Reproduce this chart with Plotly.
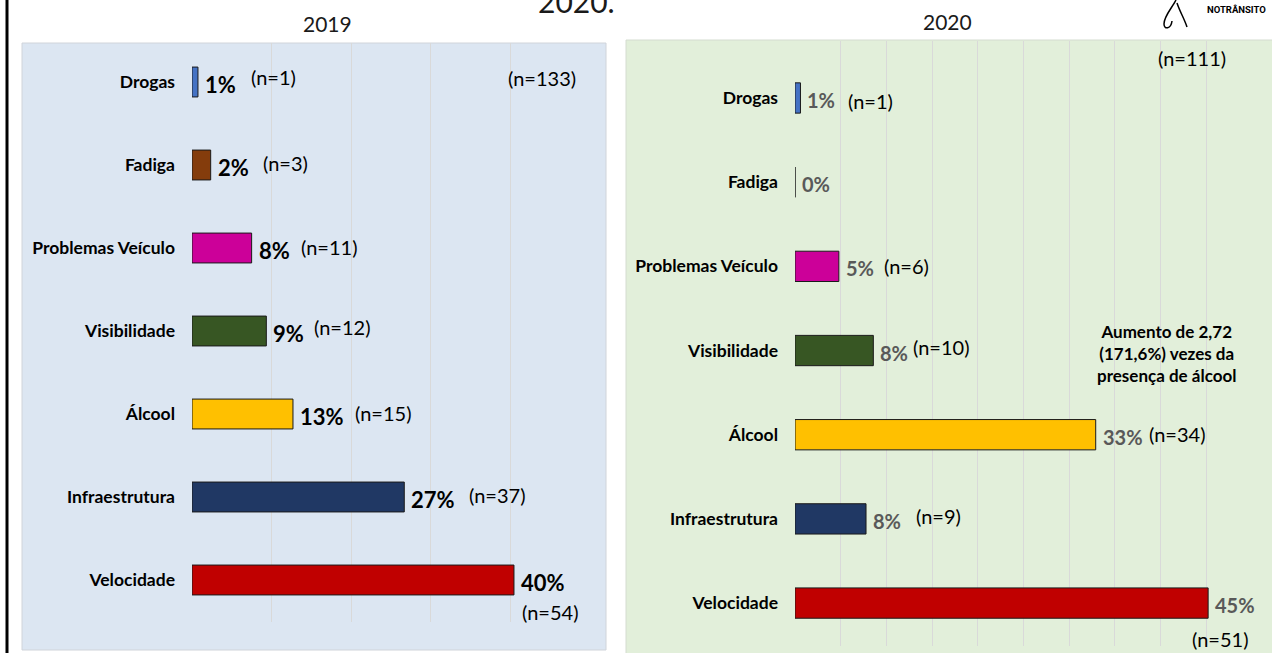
import plotly.graph_objects as go

W, H = 1272, 653

# ---------------- data ----------------
categories = ["Drogas", "Fadiga", "Problemas Veículo", "Visibilidade",
              "Álcool", "Infraestrutura", "Velocidade"]
pct_2019 = [0.75, 2.35, 7.5, 9.35, 12.7, 26.7, 40.5]
pct_2020 = [0.6, 0.0, 4.8, 8.57, 32.9, 7.77, 45.2]
labels_2019 = ["1%", "2%", "8%", "9%", "13%", "27%", "40%"]
labels_2020 = ["1%", "0%", "5%", "8%", "33%", "8%", "45%"]
n_2019 = [1, 3, 11, 12, 15, 37, 54]
n_2020 = [1, None, 6, 10, 34, 9, 51]
total_2019 = 133
total_2020 = 111
years = ["2019", "2020"]
title_tail = "2020."
note_lines = ["Aumento de 2,72", "(171,6%) vezes da", "presença de álcool"]
logo_text = "NOTRÂNSITO"

# ---------------- style ----------------
bar_colors = ["#4472C4", "#843C0C", "#CC0099", "#375623",
              "#FFC000", "#203864", "#C00000"]
FONT = "Lato"
GRID = "#D9D9D9"

# label offsets (pixels) relative to bar end: (dx, dy)
n_off_2019 = [(51, 5), (50, 2), (47, 1), (46, 4), (60, 1), (63, 2), (6, -32)]
n_off_2020 = [(46, -3), None, (43, 0), (38, 4), (51, 1), (48, 3), (-18, -36)]


def px(x):
    return x / W


def py(y):
    return 1 - y / H


fig = go.Figure()
fig.add_trace(go.Bar(
    x=pct_2019, y=categories, orientation="h",
    marker=dict(color=bar_colors, line=dict(color="#1a1a1a", width=1)),
    xaxis="x", yaxis="y", hoverinfo="skip", showlegend=False))
fig.add_trace(go.Bar(
    x=pct_2020, y=categories, orientation="h",
    marker=dict(color=bar_colors, line=dict(color="#1a1a1a", width=1)),
    xaxis="x2", yaxis="y2", hoverinfo="skip", showlegend=False))

ann = []
# percentage labels and n labels
for i, c in enumerate(categories):
    ann.append(dict(x=pct_2019[i], y=c, xref="x", yref="y", text="<b>%s</b>" % labels_2019[i],
                    xanchor="left", yanchor="middle", xshift=5, yshift=-2, showarrow=False,
                    font=dict(family=FONT, size=22, color="#000000")))
    dx, dy = n_off_2019[i]
    ann.append(dict(x=pct_2019[i], y=c, xref="x", yref="y", text="(n=%d)" % n_2019[i],
                    xanchor="left", yanchor="middle", xshift=dx, yshift=dy, showarrow=False,
                    font=dict(family=FONT, size=20, color="#000000")))
    ann.append(dict(x=pct_2020[i], y=c, xref="x2", yref="y2", text="<b>%s</b>" % labels_2020[i],
                    xanchor="left", yanchor="middle", xshift=5, yshift=-2, showarrow=False,
                    font=dict(family=FONT, size=20, color="#595959")))
    if n_2020[i] is not None:
        dx, dy = n_off_2020[i]
        ann.append(dict(x=pct_2020[i], y=c, xref="x2", yref="y2", text="(n=%d)" % n_2020[i],
                        xanchor="left", yanchor="middle", xshift=dx, yshift=dy, showarrow=False,
                        font=dict(family=FONT, size=20, color="#000000")))

# totals
ann.append(dict(x=px(542), y=py(78), xref="paper", yref="paper", text="(n=%d)" % total_2019,
                xanchor="center", yanchor="middle", showarrow=False,
                font=dict(family=FONT, size=20, color="#000000")))
ann.append(dict(x=px(1192), y=py(58), xref="paper", yref="paper", text="(n=%d)" % total_2020,
                xanchor="center", yanchor="middle", showarrow=False,
                font=dict(family=FONT, size=20, color="#000000")))
# year titles
ann.append(dict(x=px(327), y=py(24), xref="paper", yref="paper", text=years[0],
                xanchor="center", yanchor="middle", showarrow=False,
                font=dict(family=FONT, size=21, color="#1a1a1a")))
ann.append(dict(x=px(948), y=py(22), xref="paper", yref="paper", text=years[1],
                xanchor="center", yanchor="middle", showarrow=False,
                font=dict(family=FONT, size=21, color="#1a1a1a")))
# cut-off main title (the reference shows it clipped at the top edge)
ann.append(dict(x=px(576), y=py(1), xref="paper", yref="paper", text=title_tail,
                xanchor="center", yanchor="middle", showarrow=False,
                font=dict(family=FONT, size=30, color="#1a1a1a")))
# note
ann.append(dict(x=px(1166), y=py(353), xref="paper", yref="paper",
                text="<br>".join("<b>%s</b>" % s for s in note_lines),
                xanchor="center", yanchor="middle", align="center", showarrow=False,
                font=dict(family=FONT, size=17, color="#000000")))
# logo text
ann.append(dict(x=px(1236), y=py(10), xref="paper", yref="paper", text="<b>%s</b>" % logo_text,
                xanchor="center", yanchor="middle", showarrow=False,
                font=dict(family="Roboto", size=9.5, color="#000000")))


def path_from(points):
    s = "M %f %f" % (px(points[0][0]), py(points[0][1]))
    for i in range(1, len(points), 3):
        p = points[i:i + 3]
        s += " C " + ", ".join("%f %f" % (px(a), py(b)) for a, b in p)
    return s


logo_left = path_from([(1176, 0), (1172, 8), (1164, 16), (1164, 24),
                       (1164, 30), (1171, 29), (1172, 21)])
logo_right = path_from([(1177, 3), (1180, 12), (1184, 18), (1187, 27)])

shapes = [
    # panel backgrounds
    dict(type="rect", xref="paper", yref="paper", x0=px(22), x1=px(606), y0=py(650), y1=py(43),
         fillcolor="#DCE6F2", line=dict(color="#D0D4DA", width=1), layer="below"),
    dict(type="rect", xref="paper", yref="paper", x0=px(626), x1=px(1272), y0=py(653), y1=py(40),
         fillcolor="#E2EFDA", line=dict(width=0), layer="below"),
    dict(type="line", xref="paper", yref="paper", x0=px(626), x1=px(626), y0=py(653), y1=py(40),
         line=dict(color="#D4DCD0", width=1), layer="below"),
    dict(type="line", xref="paper", yref="paper", x0=px(626), x1=px(1272), y0=py(40), y1=py(40),
         line=dict(color="#D4DCD0", width=1), layer="below"),
    # outer left border line
    dict(type="line", xref="paper", yref="paper", x0=px(7), x1=px(7), y0=0, y1=1,
         line=dict(color="#000000", width=3)),
    # logo mark
    dict(type="path", xref="paper", yref="paper", path=logo_left,
         line=dict(color="#000000", width=1.5)),
    dict(type="path", xref="paper", yref="paper", path=logo_right,
         line=dict(color="#000000", width=1.5)),
]

axis_common = dict(showline=False, zeroline=False, showticklabels=False,
                   showgrid=True, gridcolor=GRID, gridwidth=1, fixedrange=True)
yaxis_common = dict(type="category", categoryorder="array", categoryarray=categories,
                    showgrid=False, zeroline=False, showline=False, ticks="",
                    ticklabelstandoff=16,
                    tickfont=dict(family=FONT, size=17.5, color="#000000", weight="bold"),
                    fixedrange=True)

fig.update_layout(
    width=W, height=H,
    margin=dict(l=0, r=0, t=0, b=0),
    paper_bgcolor="#FFFFFF",
    plot_bgcolor="rgba(0,0,0,0)",
    bargap=0.64,
    showlegend=False,
    xaxis=dict(domain=[px(192), px(589.5)], range=[0, 50], dtick=10, anchor="y", **axis_common),
    yaxis=dict(domain=[py(622), py(43)], range=[6.506, -0.47], anchor="x", **yaxis_common),
    xaxis2=dict(domain=[px(795), px(1252)], range=[0, 50], dtick=5, anchor="y2", **axis_common),
    yaxis2=dict(domain=[py(646), py(41)], range=[6.51, -0.677], anchor="x2", **yaxis_common),
    annotations=ann,
    shapes=shapes,
    font=dict(family=FONT),
)

fig.write_html("out.html",
               config={"displayModeBar": False},
               post_script=["document.documentElement.style.overflow='hidden';"
                            "document.body.style.margin='0px';"
                            "document.body.style.overflow='hidden';"])
